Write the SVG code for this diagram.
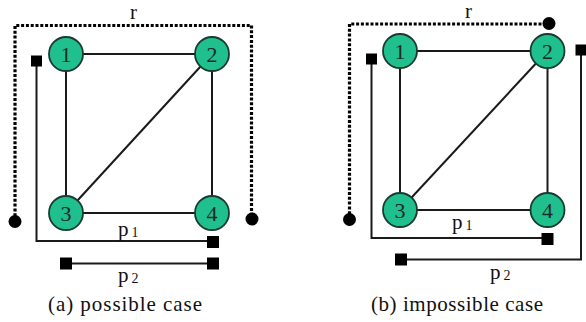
<svg xmlns="http://www.w3.org/2000/svg" width="586" height="322" viewBox="0 0 586 322">
<style>
.edge{stroke:#1a1a1a;stroke-width:2;fill:none}
.path{stroke:#1a1a1a;stroke-width:2;fill:none}
.dot{stroke:#000;stroke-width:3.2;fill:none;stroke-dasharray:3 1.8}
.node circle{fill:#1fbf8e;stroke:#1b3a30;stroke-width:1.8}
.node text{font-family:'Liberation Serif','Times New Roman',Times,'DejaVu Serif',serif;font-size:22px;fill:#1d2b26;text-anchor:middle}
.sq{fill:#000}
.end{fill:#000}
.lbl{font-family:'Liberation Serif','Times New Roman',Times,'DejaVu Serif',serif;font-size:21px;fill:#111}
.sub{font-size:14px}
.cap{font-family:'Liberation Serif','Times New Roman',Times,'DejaVu Serif',serif;font-size:21px;fill:#111;text-anchor:middle}
</style>
<rect width="586" height="322" fill="#fff"/>
<g id="connectors">
  <line class="edge" x1="66" y1="54" x2="212" y2="54"/>
  <line class="edge" x1="66" y1="54" x2="66" y2="213"/>
  <line class="edge" x1="212" y1="54" x2="212" y2="213"/>
  <line class="edge" x1="66" y1="213" x2="212" y2="213"/>
  <line class="edge" x1="66" y1="213" x2="212" y2="54"/>
  <path class="dot" d="M15,221 V25.5 H251.5 V219"/>
  <circle class="end" cx="15" cy="221.5" r="6.5"/>
  <circle class="end" cx="252" cy="219" r="6.5"/>
  <path class="path" d="M36.5,61 V241 H213"/>
  <rect class="sq" x="31" y="55.5" width="11" height="11"/>
  <rect class="sq" x="207" y="236" width="12" height="12"/>
  <line class="path" x1="66" y1="263.5" x2="213" y2="263.5"/>
  <rect class="sq" x="60" y="257.5" width="12" height="12"/>
  <rect class="sq" x="207" y="257.5" width="12" height="12"/>
  <line class="edge" x1="400" y1="51" x2="547.5" y2="51"/>
  <line class="edge" x1="400" y1="51" x2="400" y2="210"/>
  <line class="edge" x1="547.5" y1="51" x2="547.5" y2="210"/>
  <line class="edge" x1="400" y1="210" x2="547.5" y2="210"/>
  <line class="edge" x1="400" y1="210" x2="547.5" y2="51"/>
  <path class="dot" d="M349.5,219 V24 H549"/>
  <circle class="end" cx="349.5" cy="219.5" r="6.5"/>
  <circle class="end" cx="549" cy="23.5" r="6.5"/>
  <path class="path" d="M371.5,59 V238 H547.5"/>
  <rect class="sq" x="366" y="53.5" width="11" height="11"/>
  <rect class="sq" x="541.5" y="233" width="12" height="12"/>
  <path class="path" d="M581,50 V259.5 H401"/>
  <rect class="sq" x="575.5" y="44.5" width="11" height="11"/>
  <rect class="sq" x="395" y="253.5" width="12" height="12"/>
</g>
<g id="a-n1" class="node"><circle cx="66" cy="54" r="17"/><text x="66" y="61.5">1</text></g>
<g id="a-n2" class="node"><circle cx="212" cy="54" r="17"/><text x="212" y="61.5">2</text></g>
<g id="a-n3" class="node"><circle cx="66" cy="213" r="17"/><text x="66" y="220.5">3</text></g>
<g id="a-n4" class="node"><circle cx="212" cy="213" r="17"/><text x="212" y="220.5">4</text></g>
<g id="b-n1" class="node"><circle cx="400" cy="51" r="17"/><text x="400" y="58.5">1</text></g>
<g id="b-n2" class="node"><circle cx="547.5" cy="51" r="17"/><text x="547.5" y="58.5">2</text></g>
<g id="b-n3" class="node"><circle cx="400" cy="210" r="17"/><text x="400" y="217.5">3</text></g>
<g id="b-n4" class="node"><circle cx="547.5" cy="210" r="17"/><text x="547.5" y="217.5">4</text></g>
<g id="labels">
  <text class="lbl" x="130" y="19">r</text>
  <text class="lbl" x="465" y="17.5">r</text>
  <text class="lbl" x="118" y="236">p<tspan class="sub" dx="3" dy="1">1</tspan></text>
  <text class="lbl" x="118" y="282">p<tspan class="sub" dx="3" dy="1">2</tspan></text>
  <text class="lbl" x="452" y="229">p<tspan class="sub" dx="3" dy="1">1</tspan></text>
  <text class="lbl" x="490" y="279">p<tspan class="sub" dx="3" dy="1">2</tspan></text>
  <text class="cap" x="125" y="311" textLength="154" lengthAdjust="spacing">(a) possible case</text>
  <text class="cap" x="457" y="311" textLength="172" lengthAdjust="spacing">(b) impossible case</text>
</g>
</svg>
